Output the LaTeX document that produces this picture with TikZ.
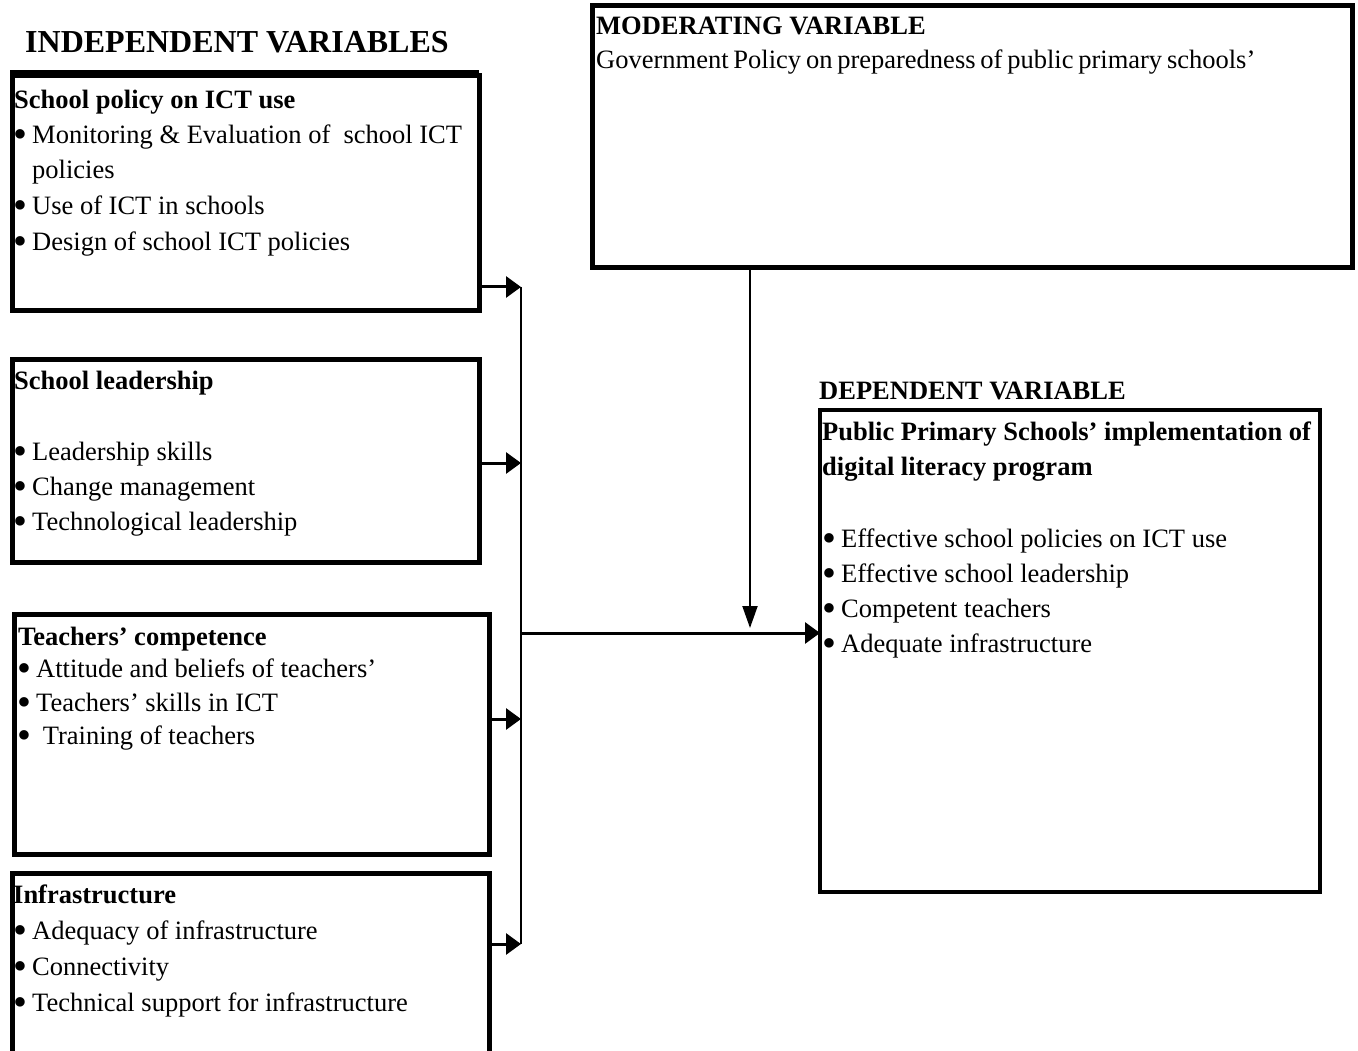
\documentclass[tikz,border=0pt]{standalone}
\usepackage{fontspec}
\setmainfont{Liberation Serif}
\usetikzlibrary{arrows.meta}
\tikzset{
  box/.style={draw=black, line width=5pt, inner sep=0pt, outer sep=0pt, anchor=north west},
  dbox/.style={draw=black, line width=4.5pt, inner sep=0pt, outer sep=0pt, anchor=north west},
  txt/.style={anchor=base west, inner sep=0pt, font=\fontsize{26.5}{32}\selectfont},
  btxt/.style={txt, font=\fontsize{26.5}{32}\selectfont\bfseries},
  bigtitle/.style={anchor=base west, inner sep=0pt, font=\fontsize{32}{38}\selectfont\bfseries},
  arr/.style={line width=3pt, -{Triangle[length=15pt,width=21pt]}},
  varr/.style={line width=2pt, -{Triangle[length=22pt,width=15pt]}},
  thin/.style={line width=1.5pt},
}
\newcommand{\bul}[1]{\makebox[19pt][l]{\smash{\raisebox{-4pt}{\scalebox{1.5}{\textbullet}}}}#1}
\begin{document}
\begin{tikzpicture}[x=1pt,y=-1pt]
\useasboundingbox (0,0) rectangle (1358,1051);
% titles
\node[bigtitle] (tind) at (25,53) {INDEPENDENT VARIABLES};
\node[btxt] (tdep) at (819,399) {DEPENDENT VARIABLE};
% boxes
\node[box, minimum width=467pt, minimum height=234pt] (b1) at (12,76) {};
\draw[line width=3pt] (10,72) -- (479,72);
\node[box, minimum width=467pt, minimum height=203pt] (b2) at (12,359) {};
\node[box, minimum width=475pt, minimum height=240pt] (b3) at (14,614) {};
\node[box, minimum width=477pt, minimum height=220pt] (b4) at (12,873) {};
\node[box, minimum width=760pt, minimum height=262pt] (bm) at (592,6) {};
\node[dbox, minimum width=500pt, minimum height=482pt] (bd) at (820,410) {};
% box 1 text
\node[btxt] (t10) at (14,109) {School policy on ICT use};
\node[txt] (t11) at (13,144) {\bul{Monitoring \& Evaluation of \ school ICT}};
\node[txt] (t12) at (32,179) {policies};
\node[txt] (t13) at (13,215) {\bul{Use of ICT in schools}};
\node[txt] (t14) at (13,251) {\bul{Design of school ICT policies}};
% box 2 text
\node[btxt] (t20) at (14,389) {School leadership};
\node[txt] (t21) at (13,460) {\bul{Leadership skills}};
\node[txt] (t22) at (13,495) {\bul{Change management}};
\node[txt] (t23) at (13,530) {\bul{Technological leadership}};
% box 3 text
\node[btxt] (t30) at (18,645) {Teachers’ competence};
\node[txt] (t31) at (17,677) {\bul{Attitude and beliefs of teachers’}};
\node[txt] (t32) at (17,711) {\bul{Teachers’ skills in ICT}};
\node[txt] (t33) at (17,744) {\bul{\ Training of teachers}};
% box 4 text
\node[btxt] (t40) at (13,903) {Infrastructure};
\node[txt] (t41) at (13,939) {\bul{Adequacy of infrastructure}};
\node[txt] (t42) at (13,975) {\bul{Connectivity}};
\node[txt] (t43) at (13,1011) {\bul{Technical support for infrastructure}};
% moderating text
\node[btxt] (tm0) at (596,35) {MODERATING VARIABLE};
\node[txt] (tm1) at (596,69) {\spaceskip=4.8pt Government Policy on preparedness of public primary schools’};
% dependent text
\node[btxt] (td0) at (822,440) {Public Primary Schools’ implementation of};
\node[btxt] (td1) at (822,475) {digital literacy program};
\node[txt] (td2) at (822,547) {\bul{Effective school policies on ICT use}};
\node[txt] (td3) at (822,582) {\bul{Effective school leadership}};
\node[txt] (td4) at (822,617) {\bul{Competent teachers}};
\node[txt] (td5) at (822,652) {\bul{Adequate infrastructure}};
% connectors
\coordinate (j1) at (521,287);
\coordinate (j2) at (521,463);
\coordinate (j3) at (521,719);
\coordinate (j4) at (521,944);
\coordinate (jm) at (521,633);
\coordinate (mt) at (750,628);
\draw[arr] (b1.east |- j1) -- (j1);
\draw[arr] (b2.east |- j2) -- (j2);
\draw[arr] (b3.east |- j3) -- (j3);
\draw[arr] (b4.east |- j4) -- (j4);
\draw[thin] (j1) -- (j4);
\draw[arr] (jm) -- (bd.west |- jm);
\draw[varr] (bm.south -| mt) -- (mt);
\end{tikzpicture}
\end{document}
